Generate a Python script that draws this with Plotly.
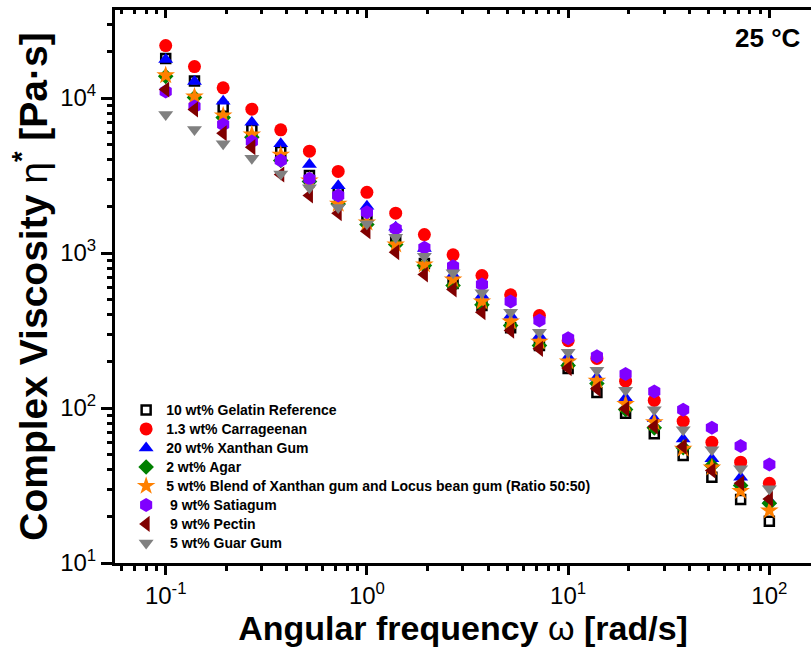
import plotly.graph_objects as go

# Angular frequency sweep points (rad/s), 7 points per decade
omega = [0.1, 0.139, 0.193, 0.268, 0.373, 0.518, 0.720, 1.0, 1.39, 1.93, 2.68,
         3.73, 5.18, 7.20, 10.0, 13.9, 19.3, 26.8, 37.3, 51.8, 72.0, 100.0]

# Complex viscosity (Pa·s) for each formulation
gelatin = [18000, 12900, 8720, 6270, 4520, 3160, 2455, 1745, 1205, 855, 636,
           459, 330, 253, 180, 126, 92.5, 68.2, 49.4, 35.8, 25.7, 18.6]
carrageenan = [21800, 15960, 11640, 8470, 6240, 4540, 3360, 2465, 1807, 1316, 973,
               716, 537, 395, 272, 209, 149, 112, 82.2, 60.1, 44.7, 32.7]
xanthan = [17700, 12780, 9540, 6990, 5070, 3725, 2720, 2000, 1466, 1070, 723,
           532, 395, 291, 213, 158, 116, 85.1, 63.2, 47.0, 35.8, 25.3]
agar = [13800, 10070, 7480, 5590, 3950, 2890, 2075, 1527, 1135, 830, 617,
        463, 341, 253, 188, 144, 97.8, 74.5, 55.4, 42.6, 31.6, 24.3]
blend = [14000, 10220, 7710, 5820, 4300, 2940, 2080, 1575, 1135, 843, 675,
         487, 361, 268, 199.5, 150, 106, 80.9, 54.5, 41.3, 29.1, 21.8]
satiagum = [11000, 8810, 6740, 5240, 3950, 3010, 2350, 1834, 1432, 1081, 822,
            627, 487, 367, 282, 216, 166, 128, 97.3, 74.5, 56.8, 43.2]
pectin = [11350, 8430, 5930, 4820, 3210, 2350, 1806, 1383, 1012, 727, 582,
          415, 316, 241, 181, 133, 98.8, 76.0, 56.4, 39.5, 32.7, 25.9]
guar = [7830, 6270, 5070, 4090, 3240, 2640, 1970, 1542, 1264, 953, 745,
        554, 415, 308, 229, 175, 130, 97.3, 72.3, 53.7, 40.5, 30.1]

names = ["10 wt% Gelatin Reference", "1.3 wt% Carrageenan", "20 wt% Xanthan Gum",
         "2 wt% Agar", "5 wt% Blend of Xanthan gum and Locus bean gum (Ratio 50:50)",
         " 9 wt% Satiagum", " 9 wt% Pectin", " 5 wt% Guar Gum"]
series = [gelatin, carrageenan, xanthan, agar, blend, satiagum, pectin, guar]

# Decade tick positions and their labels
x_tickvals = [0.1, 1, 10, 100]
x_ticktext = ["10<sup>-1</sup>", "10<sup>0</sup>", "10<sup>1</sup>", "10<sup>2</sup>"]
y_tickvals = [10, 100, 1000, 10000]
y_ticktext = ["10<sup>1</sup>", "10<sup>2</sup>", "10<sup>3</sup>", "10<sup>4</sup>"]

styles = [
    dict(symbol="square-open", color="black", size=9, line=dict(width=2.5, color="black")),
    dict(symbol="circle", color="#FF0000", size=13),
    dict(symbol="triangle-up", color="#0000FF", size=13),
    dict(symbol="diamond", color="#008000", size=12),
    dict(symbol="star", color="#FF8000", size=14),
    dict(symbol="hexagon", color="#8000FF", size=14),
    dict(symbol="triangle-left", color="#800000", size=14),
    dict(symbol="triangle-down", color="#808080", size=13),
]

fig = go.Figure()
for name, vals, st in zip(names, series, styles):
    fig.add_trace(go.Scatter(
        x=omega, y=vals, mode="markers",
        name=f"<span style='font-size:14px'>{name}</span>",
        marker=st, showlegend=True))

FONT = "Liberation Sans, Arial, sans-serif"
xr = [-1.252, 2.207]
yr = [1.0, 4.568]

axis_common = dict(
    type="log", showgrid=False, zeroline=False,
    showline=True, linecolor="black", linewidth=3,
    tickmode="array",
    tickfont=dict(family=FONT, size=24, color="black"),
)

fig.update_layout(
    width=811, height=655,
    margin=dict(l=115, r=0, t=10, b=92),
    paper_bgcolor="white", plot_bgcolor="white",
    font=dict(family=FONT, color="black"),
    xaxis=dict(
        **axis_common, range=xr, tickvals=x_tickvals, ticktext=x_ticktext,
        automargin=True,
        ticks="outside", ticklen=9, tickwidth=2.5, tickcolor="black",
        minor=dict(ticks="outside", ticklen=5, tickwidth=2.5, tickcolor="black",
                   dtick="D1", showgrid=False),
        title=dict(text="Angular frequency <span style='font-weight:normal'>ω</span> [rad/s]",
                   font=dict(family=FONT, size=34, weight="bold", color="black"),
                   standoff=9),
    ),
    xaxis2=dict(
        type="log", range=xr, overlaying="x", side="top", anchor="y",
        showgrid=False, zeroline=False, showline=True, linecolor="black", linewidth=3,
        dtick=1, showticklabels=False,
        ticks="inside", ticklen=8, tickwidth=2.5, tickcolor="black",
        minor=dict(ticks="inside", ticklen=4, tickwidth=2.5, tickcolor="black",
                   dtick="D1", showgrid=False),
    ),
    yaxis=dict(
        **axis_common, range=yr, tickvals=y_tickvals, ticktext=y_ticktext,
        ticks="outside", ticklen=11, tickwidth=3, tickcolor="black",
        minor=dict(ticks="outside", ticklen=5, tickwidth=2.5, tickcolor="black",
                   dtick="D1", showgrid=False),
        title=dict(text="Complex Viscosity <span style='font-weight:normal'>η</span><sup>*</sup> [Pa·s]",
                   font=dict(family=FONT, size=39, weight="bold", color="black"),
                   standoff=1),
    ),
    legend=dict(
        x=0.016, y=0.303, xanchor="left", yanchor="top",
        bgcolor="rgba(0,0,0,0)", borderwidth=0,
        font=dict(family=FONT, size=12, weight="bold", color="black"),
        itemsizing="trace", tracegroupgap=0,
    ),
    annotations=[dict(
        text="<b>25 °C</b>", xref="paper", yref="paper", x=0.988, y=0.95,
        xanchor="right", yanchor="middle", showarrow=False,
        font=dict(family=FONT, size=26, color="black"),
    )],
)

# empty trace so the top mirror axis is rendered
fig.add_trace(go.Scatter(x=[], y=[], xaxis="x2", yaxis="y", showlegend=False,
                         hoverinfo="skip"))

fig.write_html("out.html")
